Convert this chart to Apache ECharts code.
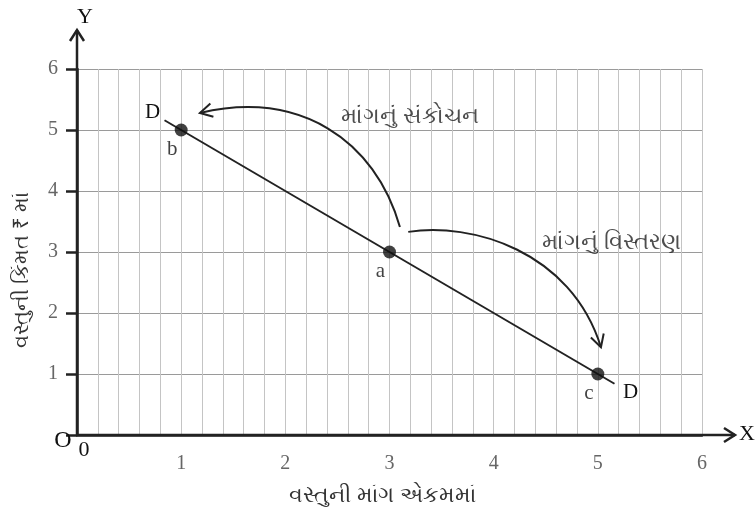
<!DOCTYPE html>
<html>
<head>
<meta charset="utf-8">
<script src="https://cdn.jsdelivr.net/npm/echarts@6/dist/echarts.min.js"></script>
<style>
html,body{margin:0;padding:0;background:#fff}
#main{width:756px;height:512px}
</style>
</head>
<body>
<div id="main"></div>
<script>
// demand schedule points
var pointNames = ['b', 'a', 'c'];
var quantity = [1, 3, 5];
var price = [5, 3, 1];
// demand curve D-D ends
var demandEnds = [[0.84, 5.16], [5.16, 0.84]];
// curved arrows (start, control 1, control 2, tip) in data units
var arrowNames = ['માંગનું સંકોચન', 'માંગનું વિસ્તરણ'];
var arrowCurves = [
    [[3.10, 3.41], [2.86, 4.84], [2.14, 5.66], [1.18, 5.28]],
    [[3.18, 3.33], [3.78, 3.49], [4.74, 3.03], [5.03, 1.44]]
];
var arrowTextAt = [[3.2, 5.22], [5.13, 3.16]];

var xName = 'વસ્તુની માંગ એકમમાં';
var yName = 'વસ્તુની કિંમત ₹ માં';

var myChart = echarts.init(document.getElementById('main'), null, {renderer: 'canvas'});

var serif = 'Liberation Serif';
var guj = 'Noto Sans, sans-serif';

var option = {
    backgroundColor: '#fff',
    animation: false,
    grid: {left: 77, right: 54, top: 69, bottom: 77, outerBoundsMode: 'none'},
    xAxis: {
        type: 'value', min: 0, max: 6, interval: 1,
        name: xName, nameLocation: 'middle', nameGap: 50,
        nameTextStyle: {fontFamily: guj, fontSize: 22, color: '#333', padding: [0, 0, 0, -14]},
        axisLine: {show: true, lineStyle: {color: '#222', width: 2.5}},
        axisTick: {show: false},
        minorTick: {show: false, splitNumber: 5},
        minorSplitLine: {show: true, lineStyle: {color: '#c4c4c4', width: 1}},
        splitLine: {show: true, lineStyle: {color: '#c4c4c4', width: 1}},
        axisLabel: {
            margin: 19, fontFamily: serif, fontSize: 20, color: '#666',
            formatter: function(v) { return v === 0 ? '' : v; }
        }
    },
    yAxis: {
        type: 'value', min: 0, max: 6, interval: 1,
        name: yName, nameLocation: 'middle', nameGap: 44, nameRotate: 90,
        nameTextStyle: {fontFamily: guj, fontSize: 21, color: '#333', padding: [0, 0, 0, -36]},
        axisLine: {show: true, lineStyle: {color: '#222', width: 2.5}},
        axisTick: {show: true, length: 11, lineStyle: {color: '#222', width: 2.5}},
        splitLine: {show: true, lineStyle: {color: '#9a9a9a', width: 1.2}},
        axisLabel: {
            margin: 19, fontFamily: serif, fontSize: 20, color: '#666',
            formatter: function(v) { return v === 0 ? '' : v; }
        }
    },
    series: [
        {
            type: 'line',
            data: demandEnds,
            symbol: 'none',
            lineStyle: {color: '#222', width: 2},
            markPoint: {
                symbol: 'circle', symbolSize: 0,
                label: {show: true, formatter: 'D', fontFamily: serif, fontSize: 21, color: '#111'},
                data: [
                    {coord: demandEnds[0], label: {offset: [-12, -8]}},
                    {coord: demandEnds[1], label: {offset: [16, 9]}}
                ]
            },
            z: 3
        },
        {
            type: 'scatter',
            data: quantity.map(function(q, i) { return {name: pointNames[i], value: [q, price[i]]}; }),
            symbol: 'circle', symbolSize: 13,
            itemStyle: {color: '#111'},
            label: {
                show: true, position: 'bottom', distance: 2, offset: [-9, 0],
                formatter: '{b}', fontFamily: serif, fontSize: 21, color: '#111'
            },
            z: 4
        },
        {
            type: 'custom',
            data: arrowCurves.map(function(c, i) { return [c[3][0], c[3][1], i]; }),
            encode: {x: 0, y: 1},
            renderItem: function(params, api) {
                var c = arrowCurves[params.dataIndex].map(function(p) { return api.coord(p); });
                var p2 = c[2], p3 = c[3];
                var ang = Math.atan2(p3[1] - p2[1], p3[0] - p2[0]);
                var L = 14, s = 0.5;
                var h1 = [p3[0] - L * Math.cos(ang - s), p3[1] - L * Math.sin(ang - s)];
                var h2 = [p3[0] - L * Math.cos(ang + s), p3[1] - L * Math.sin(ang + s)];
                return {
                    type: 'group',
                    children: [
                        {
                            type: 'bezierCurve',
                            shape: {x1: c[0][0], y1: c[0][1], cpx1: c[1][0], cpy1: c[1][1],
                                    cpx2: c[2][0], cpy2: c[2][1], x2: c[3][0], y2: c[3][1]},
                            style: {fill: null, stroke: '#222', lineWidth: 2}
                        },
                        {
                            type: 'polyline',
                            shape: {points: [h1, p3, h2]},
                            style: {fill: null, stroke: '#222', lineWidth: 2}
                        }
                    ]
                };
            },
            z: 3
        },
        {
            type: 'scatter',
            data: arrowTextAt.map(function(p, i) { return {name: arrowNames[i], value: p}; }),
            symbolSize: 0,
            label: {show: true, position: 'inside', formatter: '{b}', fontFamily: guj, fontSize: 23, color: '#222'},
            z: 5
        }
    ]
};

myChart.setOption(option);

// axis arrow extensions and O / X / Y marks
var o = myChart.convertToPixel({gridIndex: 0}, [0, 0]);
var ax = 735, ay = 30;
myChart.setOption({
    graphic: [
        {type: 'line', shape: {x1: o[0], y1: o[1], x2: ax, y2: o[1]}, style: {stroke: '#222', lineWidth: 2.5}, z: 10},
        {type: 'polyline', shape: {points: [[ax - 11, o[1] - 7], [ax, o[1]], [ax - 11, o[1] + 7]]}, style: {stroke: '#222', lineWidth: 2.5, fill: null}, z: 10},
        {type: 'line', shape: {x1: o[0], y1: o[1], x2: o[0], y2: ay}, style: {stroke: '#222', lineWidth: 2.5}, z: 10},
        {type: 'polyline', shape: {points: [[o[0] - 7, ay + 11], [o[0], ay], [o[0] + 7, ay + 11]]}, style: {stroke: '#222', lineWidth: 2.5, fill: null}, z: 10},
        {type: 'text', x: ax + 4, y: o[1] - 1, style: {text: 'X', font: '22px "Liberation Serif"', fill: '#111', verticalAlign: 'middle'}, z: 10},
        {type: 'text', x: o[0] + 8, y: 17, style: {text: 'Y', font: '22px "Liberation Serif"', fill: '#111', align: 'center', verticalAlign: 'middle'}, z: 10},
        {type: 'text', x: o[0] - 14, y: o[1] + 6, style: {text: 'O', font: '24px "Liberation Serif"', fill: '#111', align: 'center', verticalAlign: 'middle'}, z: 10},
        {type: 'text', x: o[0] + 7, y: o[1] + 15, style: {text: '0', font: '22px "Liberation Serif"', fill: '#111', align: 'center', verticalAlign: 'middle'}, z: 10}
    ]
});
</script>
</body>
</html>
